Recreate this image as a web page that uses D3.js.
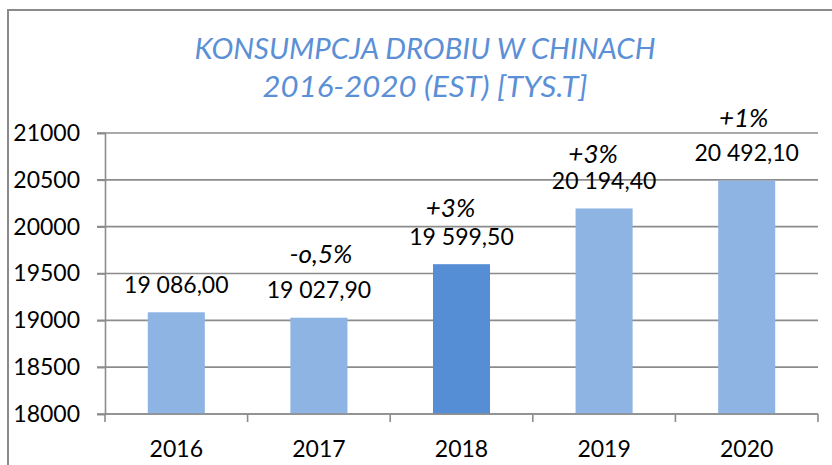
<!DOCTYPE html>
<html>
<head>
<meta charset="utf-8">
<script src="https://cdn.jsdelivr.net/npm/d3@7"></script>
<style>
  body { margin: 0; background: #fff; }
  text { font-family: Lato, "Open Sans", sans-serif; }
</style>
</head>
<body>
<div id="chart"></div>
<script>
// data
const years = ["2016", "2017", "2018", "2019", "2020"];
const consumption = [19086.00, 19027.90, 19599.50, 20194.40, 20492.10];
const changes = [null, "-o,5%", "+3%", "+3%", "+1%"];
const yTicks = [18000, 18500, 19000, 19500, 20000, 20500, 21000];
const titleLines = ["KONSUMPCJA DROBIU W CHINACH", "2016-2020 (EST) [TYS.T]"];
const highlightYear = "2018";

// hand placed offsets of the % text boxes (px from bar top / band centre)
const pctDy = [0, -55, -47, -45.5, -53.5];
const pctDx = [0, 2, -11, -11, -3];

var width = 832, height = 465;
var plot = {left: 105, right: 818, top: 133, bottom: 414};

var svg = d3.select("#chart")
    .append("svg")
    .attr("width", width)
    .attr("height", height);

// outer frame of the chart
svg.append("rect")
    .attr("x", 8).attr("y", 10)
    .attr("width", 840).attr("height", 480)
    .attr("fill", "none")
    .attr("stroke", "#8a8a8a")
    .attr("stroke-width", 2);

// title
svg.selectAll(".title")
    .data(titleLines)
    .enter()
    .append("text")
    .attr("class", "title")
    .attr("x", 425)
    .attr("y", function(d, i) { return 59 + i * 38; })
    .attr("text-anchor", "middle")
    .attr("font-style", "italic")
    .attr("font-size", 29)
    .attr("fill", "#5b8fd6")
    .attr("textLength", function(d, i) { return i == 0 ? 461 : 325; })
    .attr("lengthAdjust", "spacingAndGlyphs")
    .text(function(d) { return d; });

var x = d3.scaleBand()
    .domain(years)
    .range([plot.left, plot.right])
    .paddingInner(0.6)
    .paddingOuter(0.3);

var y = d3.scaleLinear()
    .domain([yTicks[0], yTicks[yTicks.length - 1]])
    .range([plot.bottom, plot.top]);

var step = x.step();
var gray = "#8c8c8c";

// gridlines
svg.append("g")
    .selectAll("line")
    .data(yTicks)
    .enter()
    .append("line")
    .attr("x1", plot.left - 8)
    .attr("x2", plot.right)
    .attr("y1", function(d) { return y(d); })
    .attr("y2", function(d) { return y(d); })
    .attr("stroke", gray)
    .attr("stroke-width", 1.6);

// y axis
var yAxis = svg.append("g")
    .attr("transform", "translate(" + plot.left + ",0)")
    .call(d3.axisLeft(y).tickValues(yTicks).tickSize(8).tickPadding(17).tickFormat(d3.format("d")));
yAxis.select(".domain").attr("stroke", gray).attr("stroke-width", 1.6);
yAxis.selectAll(".tick line").attr("stroke", gray).attr("stroke-width", 1.6);
yAxis.selectAll("text")
    .attr("font-family", "Lato, sans-serif")
    .attr("font-size", 23)
    .attr("fill", "#000");

// bars
svg.append("g")
    .selectAll("rect")
    .data(years)
    .enter()
    .append("rect")
    .attr("x", function(d) { return x(d); })
    .attr("y", function(d, i) { return y(consumption[i]); })
    .attr("width", x.bandwidth())
    .attr("height", function(d, i) { return plot.bottom - y(consumption[i]); })
    .attr("fill", function(d) { return d == highlightYear ? "#558ed5" : "#8eb4e3"; });

// x axis with ticks between categories
var boundaries = years.map(function(d) { return x(d) - step * 0.3; }).concat([plot.right]);
svg.append("line")
    .attr("x1", plot.left).attr("x2", plot.right)
    .attr("y1", plot.bottom).attr("y2", plot.bottom)
    .attr("stroke", gray).attr("stroke-width", 1.6);
svg.append("g")
    .selectAll("line")
    .data(boundaries)
    .enter()
    .append("line")
    .attr("x1", function(d) { return d; })
    .attr("x2", function(d) { return d; })
    .attr("y1", plot.bottom)
    .attr("y2", plot.bottom + 8)
    .attr("stroke", gray)
    .attr("stroke-width", 1.6);

svg.append("g")
    .selectAll("text")
    .data(years)
    .enter()
    .append("text")
    .attr("x", function(d) { return x(d) + x.bandwidth() / 2; })
    .attr("y", 457)
    .attr("text-anchor", "middle")
    .attr("font-size", 23)
    .text(function(d) { return d; });

// value labels
var pl = d3.formatLocale({decimal: ",", thousands: " ", grouping: [3], currency: ["", ""]});
var fmt = pl.format(",.2f");

svg.append("g")
    .selectAll("text")
    .data(consumption)
    .enter()
    .append("text")
    .attr("x", function(d, i) { return x(years[i]) + x.bandwidth() / 2; })
    .attr("y", function(d) { return y(d) - 19.5; })
    .attr("text-anchor", "middle")
    .attr("font-size", 23)
    .text(function(d) { return fmt(d); });

// change annotations
var pctData = changes.map(function(c, i) { return {i: i, text: c}; })
    .filter(function(d) { return d.text != null; });

svg.append("g")
    .selectAll("text")
    .data(pctData)
    .enter()
    .append("text")
    .attr("x", function(d) { return x(years[d.i]) + x.bandwidth() / 2 + pctDx[d.i]; })
    .attr("y", function(d) { return y(consumption[d.i]) + pctDy[d.i]; })
    .attr("text-anchor", "middle")
    .attr("font-style", "italic")
    .attr("font-size", 26)
    .text(function(d) { return d.text; });
</script>
</body>
</html>
